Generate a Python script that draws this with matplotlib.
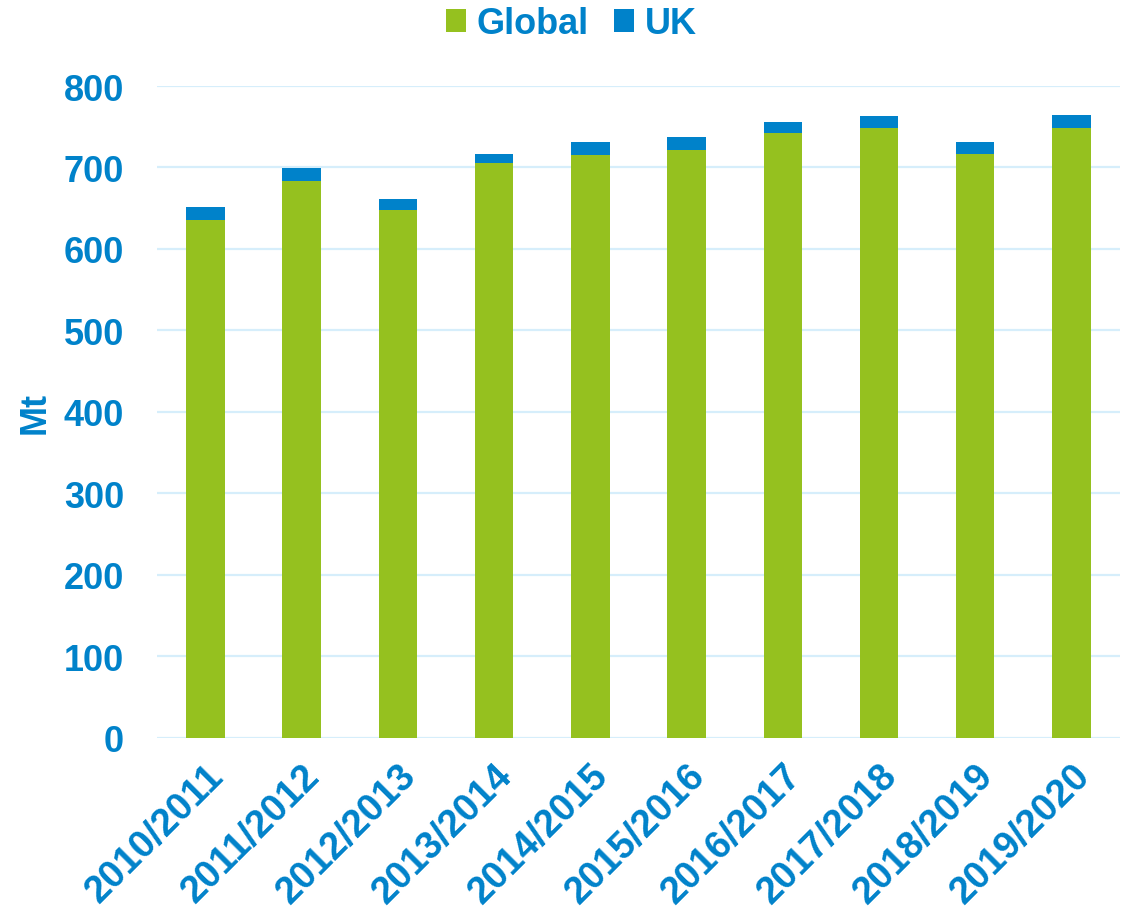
import matplotlib.pyplot as plt
import numpy as np

seasons = ["2010/2011", "2011/2012", "2012/2013", "2013/2014", "2014/2015",
           "2015/2016", "2016/2017", "2017/2018", "2018/2019", "2019/2020"]
global_mt = [636, 684, 648, 705, 715, 722, 742, 748, 717, 749]
uk_mt = [15, 15, 13, 11, 16, 16, 14, 15, 14, 16]

green = "#95C11F"
blue = "#0082CA"
grid = "#D6EEFB"

plt.rcParams['font.family'] = ['Liberation Sans', 'DejaVu Sans']
plt.rcParams['font.weight'] = 'bold'

fig = plt.figure(figsize=(11.32, 9.12), dpi=100)
ax = fig.add_axes([0.139, 0.19, 0.85, 0.7146])

x = np.arange(len(seasons))
ax.bar(x, global_mt, width=0.4, color=green, label="Global", zorder=3)
ax.bar(x, uk_mt, width=0.4, bottom=global_mt, color=blue, label="UK", zorder=3)

ax.set_xlim(-0.5, len(seasons) - 0.5)
ax.set_ylim(0, 800)
ax.set_yticks(range(0, 801, 100))
ax.yaxis.grid(True, color=grid, linewidth=1.6, zorder=0)
ax.set_axisbelow(True)

for s in ax.spines.values():
    s.set_visible(False)
ax.tick_params(axis='both', length=0, labelsize=26, labelcolor=blue)
ax.tick_params(axis='y', pad=24)
ax.set_xticks(x)
ax.set_xticklabels(seasons, rotation=45, ha='right', rotation_mode='anchor')
ax.tick_params(axis='x', pad=14, labelsize=27.5)

ax.set_ylabel("Mt", fontsize=26, color=blue, fontweight='bold', labelpad=8)

leg = fig.legend(loc='upper center', bbox_to_anchor=(0.505, 1.028), ncol=2, frameon=False,
                 fontsize=26, handlelength=0.55, handleheight=0.6, handletextpad=0.3,
                 columnspacing=0.7)
for t in leg.get_texts():
    t.set_color(blue)
    t.set_fontweight('bold')

fig.savefig("out.png", dpi=100)
